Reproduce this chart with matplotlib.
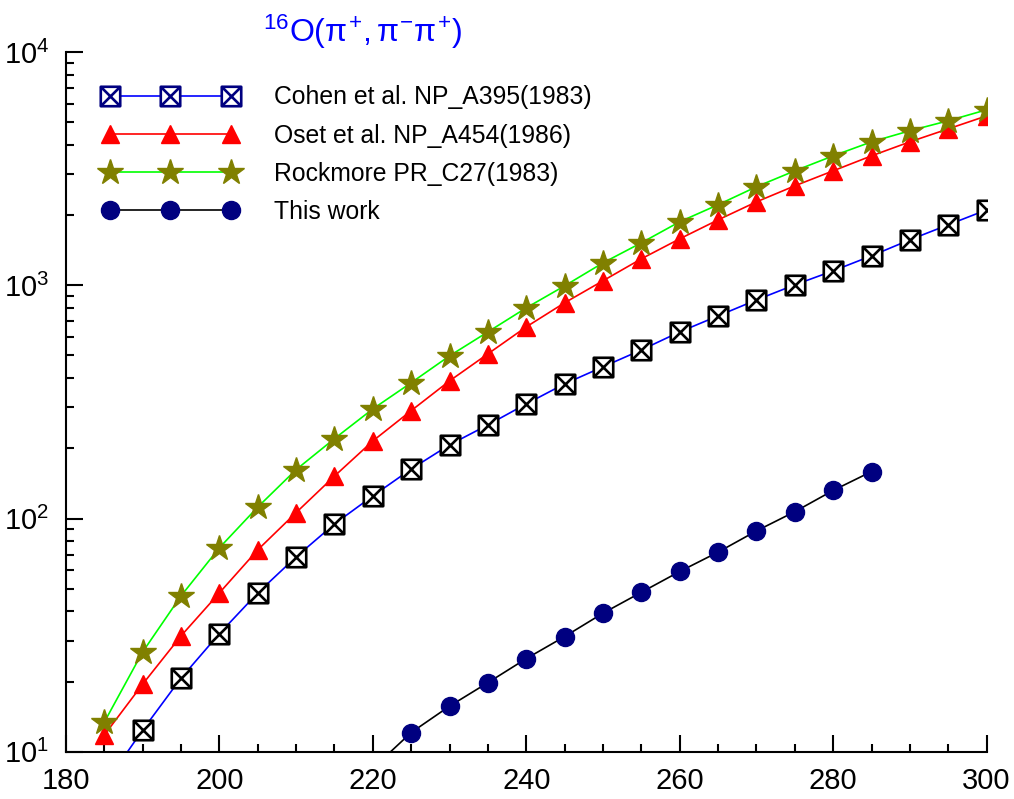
import numpy as np
import matplotlib
matplotlib.use("Agg")
from matplotlib import pyplot as plt
from matplotlib.path import Path
from matplotlib.lines import Line2D
from matplotlib.ticker import LogLocator, MultipleLocator, NullFormatter

plt.rcParams['font.family'] = ['Liberation Sans', 'DejaVu Sans']
plt.rcParams['mathtext.fontset'] = 'custom'
plt.rcParams['mathtext.rm'] = 'Liberation Sans'
plt.rcParams['mathtext.it'] = 'Liberation Sans'

# energies (MeV)
x_cohen = [185, 190, 195, 200, 205, 210, 215, 220, 225, 230, 235, 240,
           245, 250, 255, 260, 265, 270, 275, 280, 285, 290, 295, 300]
y_cohen = [7.2, 12.4, 20.7, 32.1, 48, 68.5, 94.8, 125, 163, 207, 252, 310,
           378, 447, 528, 631, 739, 865, 1004, 1153, 1337, 1566, 1816, 2104]

x_oset = [185, 190, 195, 200, 205, 210, 215, 220, 225, 230, 235, 240,
          245, 250, 255, 260, 265, 270, 275, 280, 285, 290, 295, 300]
y_oset = [11.8, 19.5, 31.4, 48, 73.4, 106, 152, 215, 290, 389, 508, 663,
          841, 1045, 1298, 1581, 1906, 2277, 2667, 3093, 3586, 4118, 4680, 5320]

x_rock = [185, 190, 195, 200, 205, 210, 215, 220, 225, 230, 235, 240,
          245, 250, 255, 260, 265, 270, 275, 280, 285, 290, 295, 300]
y_rock = [13.4, 26.8, 46.6, 74.9, 112, 162, 220, 295, 382, 498, 631, 800,
          994, 1247, 1520, 1871, 2213, 2643, 3093, 3586, 4118, 4594, 5070, 5650]

x_this = [220, 225, 230, 235, 240, 245, 250, 255, 260, 265, 270, 275, 280, 285]
y_this = [8.5, 12.1, 15.7, 19.8, 25.1, 31.2, 39.3, 48.3, 59.3, 71.8, 88.5, 107, 132, 159]

labels = ["Cohen et al. NP_A395(1983)", "Oset et al. NP_A454(1986)",
          "Rockmore PR_C27(1983)", "This work"]

# square with a cross inside
box_x = Path([(-1, -1), (1, -1), (1, 1), (-1, 1), (-1, -1), (-1, -1), (1, 1), (-1, 1), (1, -1)],
             [Path.MOVETO, Path.LINETO, Path.LINETO, Path.LINETO, Path.CLOSEPOLY,
              Path.MOVETO, Path.LINETO, Path.MOVETO, Path.LINETO])

fig = plt.figure(figsize=(10.14, 7.99), dpi=100)
ax = fig.add_axes([0.065, 0.059, 0.908, 0.876])

ax.plot(x_cohen, y_cohen, color='#0000ff', lw=1.2, marker=box_x, ms=14,
        mfc='white', mec='black', mew=1.9)
ax.plot(x_oset, y_oset, color='#ff0000', lw=1.2, marker='^', ms=13,
        mfc='#ff0000', mec='#ff0000')
ax.plot(x_rock, y_rock, color='#00ff00', lw=1.2, marker='*', ms=19,
        mfc='#808000', mec='#808000')
ax.plot(x_this, y_this, color='black', lw=1.2, marker='o', ms=13,
        mfc='#000080', mec='#000080')

ax.set_yscale('log')
ax.set_xlim(180, 300)
ax.set_ylim(10, 1e4)
ax.xaxis.set_major_locator(MultipleLocator(20))
ax.xaxis.set_minor_locator(MultipleLocator(5))
ax.yaxis.set_major_locator(LogLocator(base=10))
ax.yaxis.set_minor_locator(LogLocator(base=10, subs=np.arange(2, 10)))
ax.yaxis.set_minor_formatter(NullFormatter())
ax.tick_params(which='both', direction='in', width=1.5, labelsize=21)
ax.tick_params(axis='x', pad=11)
ax.tick_params(axis='y', pad=12)
ax.tick_params(which='major', length=12)
ax.tick_params(which='minor', length=6)
ax.spines['top'].set_visible(False)
ax.spines['right'].set_visible(False)
ax.spines['left'].set_linewidth(1.5)
ax.spines['bottom'].set_linewidth(1.5)

handles = [
    Line2D([], [], color='#0000ff', lw=1.2, marker=box_x, ms=14, mfc='white', mec='#000080', mew=1.9),
    Line2D([], [], color='#ff0000', lw=1.2, marker='^', ms=13, mfc='#ff0000', mec='#ff0000'),
    Line2D([], [], color='#00ff00', lw=1.2, marker='*', ms=19, mfc='#808000', mec='#808000'),
    Line2D([], [], color='black', lw=1.2, marker='o', ms=13, mfc='#000080', mec='#000080'),
]
ax.legend(handles, labels, loc='upper left', bbox_to_anchor=(0.101, 0.893),
          bbox_transform=fig.transFigure, frameon=False, numpoints=3,
          handlelength=5.5, handletextpad=1.45, labelspacing=0.57, fontsize=17.8,
          borderpad=0, borderaxespad=0)

fig.text(0.357, 0.984, r'$^{16}\mathrm{O}(\pi^{+},\pi^{-}\pi^{+})$', color='#0000ff', fontsize=23,
         ha='center', va='top')

fig.savefig('out.png', dpi=100)
